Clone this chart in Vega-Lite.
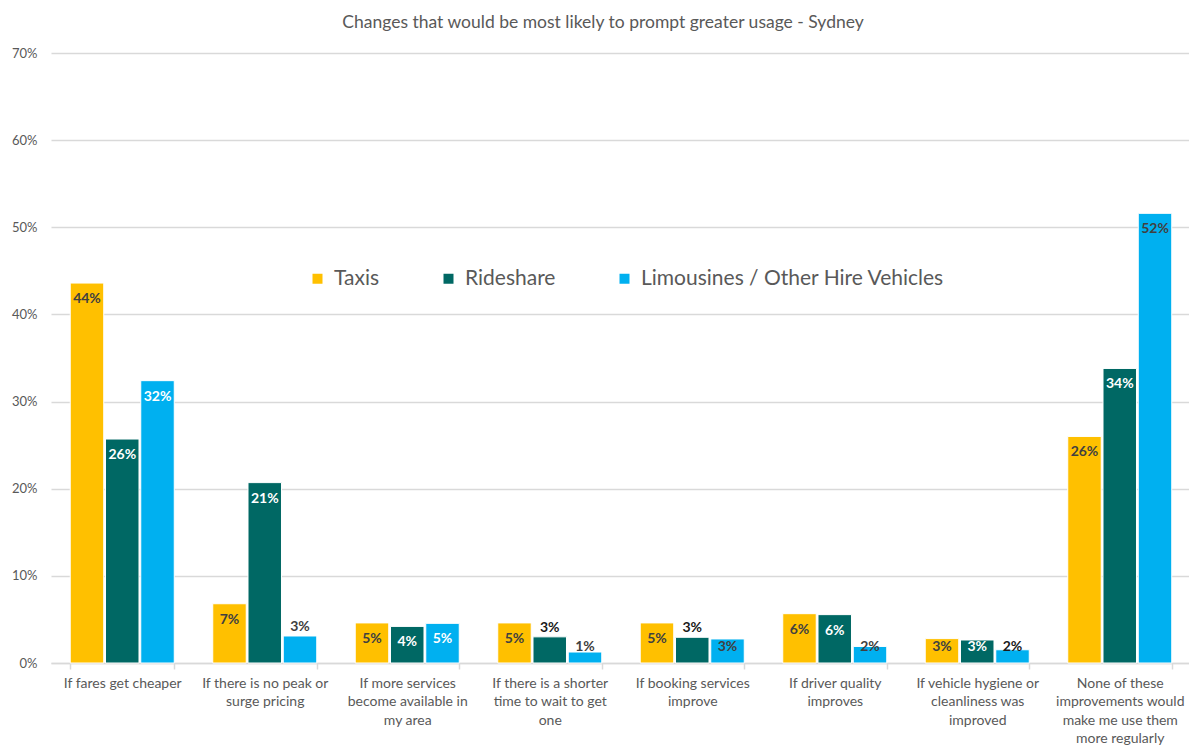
{
  "$schema": "https://vega.github.io/schema/vega-lite/v6.json",
  "autosize": {"type": "none"},
  "padding": {"left": 51, "top": 53, "right": 0, "bottom": 84},
  "width": 1140,
  "height": 610,
  "background": "#ffffff",
  "title": {
    "text": "Changes that would be most likely to prompt greater usage - Sydney",
    "font": "Lato",
    "fontSize": 17.5,
    "fontWeight": "normal",
    "color": "#595959",
    "anchor": "middle",
    "baseline": "middle",
    "offset": 7,
    "dx": -18
  },
  "config": {
    "view": {"stroke": null},
    "font": "Lato"
  },
  "data": {
    "values": [
      {"category": "If fares get cheaper", "cat": 1, "series": "Taxis", "value": 0.436},
      {"category": "If fares get cheaper", "cat": 1, "series": "Rideshare", "value": 0.257},
      {"category": "If fares get cheaper", "cat": 1, "series": "Limousines / Other Hire Vehicles", "value": 0.324},
      {"category": "If there is no peak or|surge pricing", "cat": 2, "series": "Taxis", "value": 0.068},
      {"category": "If there is no peak or|surge pricing", "cat": 2, "series": "Rideshare", "value": 0.207},
      {"category": "If there is no peak or|surge pricing", "cat": 2, "series": "Limousines / Other Hire Vehicles", "value": 0.031},
      {"category": "If more services|become available in|my area", "cat": 3, "series": "Taxis", "value": 0.046},
      {"category": "If more services|become available in|my area", "cat": 3, "series": "Rideshare", "value": 0.042},
      {"category": "If more services|become available in|my area", "cat": 3, "series": "Limousines / Other Hire Vehicles", "value": 0.0455},
      {"category": "If there is a shorter|time to wait to get|one", "cat": 4, "series": "Taxis", "value": 0.046},
      {"category": "If there is a shorter|time to wait to get|one", "cat": 4, "series": "Rideshare", "value": 0.030},
      {"category": "If there is a shorter|time to wait to get|one", "cat": 4, "series": "Limousines / Other Hire Vehicles", "value": 0.0126},
      {"category": "If booking services|improve", "cat": 5, "series": "Taxis", "value": 0.046},
      {"category": "If booking services|improve", "cat": 5, "series": "Rideshare", "value": 0.0295},
      {"category": "If booking services|improve", "cat": 5, "series": "Limousines / Other Hire Vehicles", "value": 0.0276},
      {"category": "If driver quality|improves", "cat": 6, "series": "Taxis", "value": 0.0566},
      {"category": "If driver quality|improves", "cat": 6, "series": "Rideshare", "value": 0.0555},
      {"category": "If driver quality|improves", "cat": 6, "series": "Limousines / Other Hire Vehicles", "value": 0.019},
      {"category": "If vehicle hygiene or|cleanliness was|improved", "cat": 7, "series": "Taxis", "value": 0.028},
      {"category": "If vehicle hygiene or|cleanliness was|improved", "cat": 7, "series": "Rideshare", "value": 0.0264},
      {"category": "If vehicle hygiene or|cleanliness was|improved", "cat": 7, "series": "Limousines / Other Hire Vehicles", "value": 0.0152},
      {"category": "None of these|improvements would|make me use them|more regularly", "cat": 8, "series": "Taxis", "value": 0.26},
      {"category": "None of these|improvements would|make me use them|more regularly", "cat": 8, "series": "Rideshare", "value": 0.338},
      {"category": "None of these|improvements would|make me use them|more regularly", "cat": 8, "series": "Limousines / Other Hire Vehicles", "value": 0.516}
    ]
  },
  "encoding": {
    "x": {
      "field": "category",
      "type": "nominal",
      "sort": [
        "If fares get cheaper",
        "If there is no peak or|surge pricing",
        "If more services|become available in|my area",
        "If there is a shorter|time to wait to get|one",
        "If booking services|improve",
        "If driver quality|improves",
        "If vehicle hygiene or|cleanliness was|improved",
        "None of these|improvements would|make me use them|more regularly"
      ],
      "scale": {"paddingInner": 0.27, "paddingOuter": 0.135},
      "axis": {
        "title": null,
        "labelAngle": 0,
        "labelExpr": "split(datum.label, '|')",
        "labelFont": "Lato",
        "labelFontSize": 14,
        "labelColor": "#595959",
        "labelLineHeight": 18.5,
        "labelPadding": 7,
        "labelLimit": 200,
        "domainColor": "#d9d9d9",
        "domainWidth": 1.5,
        "tickColor": "#d9d9d9",
        "tickBand": "extent",
        "tickSize": 6,
        "tickWidth": 1.5
      }
    },
    "xOffset": {
      "field": "series",
      "type": "nominal",
      "sort": ["Taxis", "Rideshare", "Limousines / Other Hire Vehicles"],
      "scale": {"paddingInner": 0.05}
    },
    "y": {
      "field": "value",
      "type": "quantitative",
      "scale": {"domain": [0, 0.7], "nice": false},
      "axis": {
        "title": null,
        "format": ".0%",
        "values": [0, 0.1, 0.2, 0.3, 0.4, 0.5, 0.6, 0.7],
        "domain": false,
        "ticks": false,
        "labelFont": "Lato",
        "labelFontSize": 13,
        "labelColor": "#595959",
        "labelPadding": 14,
        "gridColor": "#d9d9d9",
        "gridWidth": 1.5
      }
    }
  },
  "layer": [
    {
      "mark": {"type": "bar", "stroke": "#ffffff", "strokeWidth": 1},
      "encoding": {
        "color": {
          "field": "series",
          "type": "nominal",
          "sort": ["Taxis", "Rideshare", "Limousines / Other Hire Vehicles"],
          "scale": {
            "domain": ["Taxis", "Rideshare", "Limousines / Other Hire Vehicles"],
            "range": ["#FFC000", "#006864", "#00B0F0"]
          },
          "legend": {
            "title": null,
            "orient": "none",
            "direction": "horizontal",
            "legendX": 256,
            "legendY": 215,
            "symbolType": "square",
            "symbolSize": 100,
            "symbolStrokeWidth": 0,
            "labelFont": "Lato",
            "labelFontSize": 21,
            "labelColor": "#595959",
            "labelOffset": 6,
            "columnPadding": 58,
            "labelLimit": 400
          }
        }
      }
    },
    {
      "transform": [{"filter": "datum.value >= 0.04"}],
      "mark": {"type": "text", "baseline": "middle", "dy": 16, "fontSize": 14, "fontWeight": "bold", "font": "Lato"},
      "encoding": {
        "text": {"field": "value", "type": "quantitative", "format": ".0%"},
        "color": {
          "condition": [
            {"test": "datum.series === 'Taxis'", "value": "#404040"},
            {"test": "datum.series === 'Rideshare'", "value": "#ffffff"},
            {"test": "datum.value < 0.4", "value": "#ffffff"}
          ],
          "value": "#404040"
        }
      }
    },
    {
      "transform": [{"filter": "datum.value < 0.04 && !((datum.series === 'Rideshare' && (datum.cat === 4 || datum.cat === 5)) || (datum.series === 'Limousines / Other Hire Vehicles' && datum.cat === 2))"}],
      "mark": {"type": "text", "baseline": "middle", "fontSize": 14, "fontWeight": "bold", "font": "Lato"},
      "encoding": {
        "y": {"datum": 0.018},
        "text": {"field": "value", "type": "quantitative", "format": ".0%"},
        "color": {
          "condition": [
            {"test": "datum.series === 'Rideshare'", "value": "#ffffff"},
            {"test": "datum.series === 'Limousines / Other Hire Vehicles' && datum.cat === 7", "value": "#1a1a1a"}
          ],
          "value": "#404040"
        }
      }
    },
    {
      "transform": [{"filter": "(datum.series === 'Rideshare' && (datum.cat === 4 || datum.cat === 5)) || (datum.series === 'Limousines / Other Hire Vehicles' && datum.cat === 2)"}],
      "mark": {"type": "text", "baseline": "middle", "dy": -9, "fontSize": 14, "fontWeight": "bold", "font": "Lato"},
      "encoding": {
        "text": {"field": "value", "type": "quantitative", "format": ".0%"},
        "color": {
          "condition": {"test": "datum.series === 'Rideshare'", "value": "#1a1a1a"},
          "value": "#404040"
        }
      }
    }
  ]
}
